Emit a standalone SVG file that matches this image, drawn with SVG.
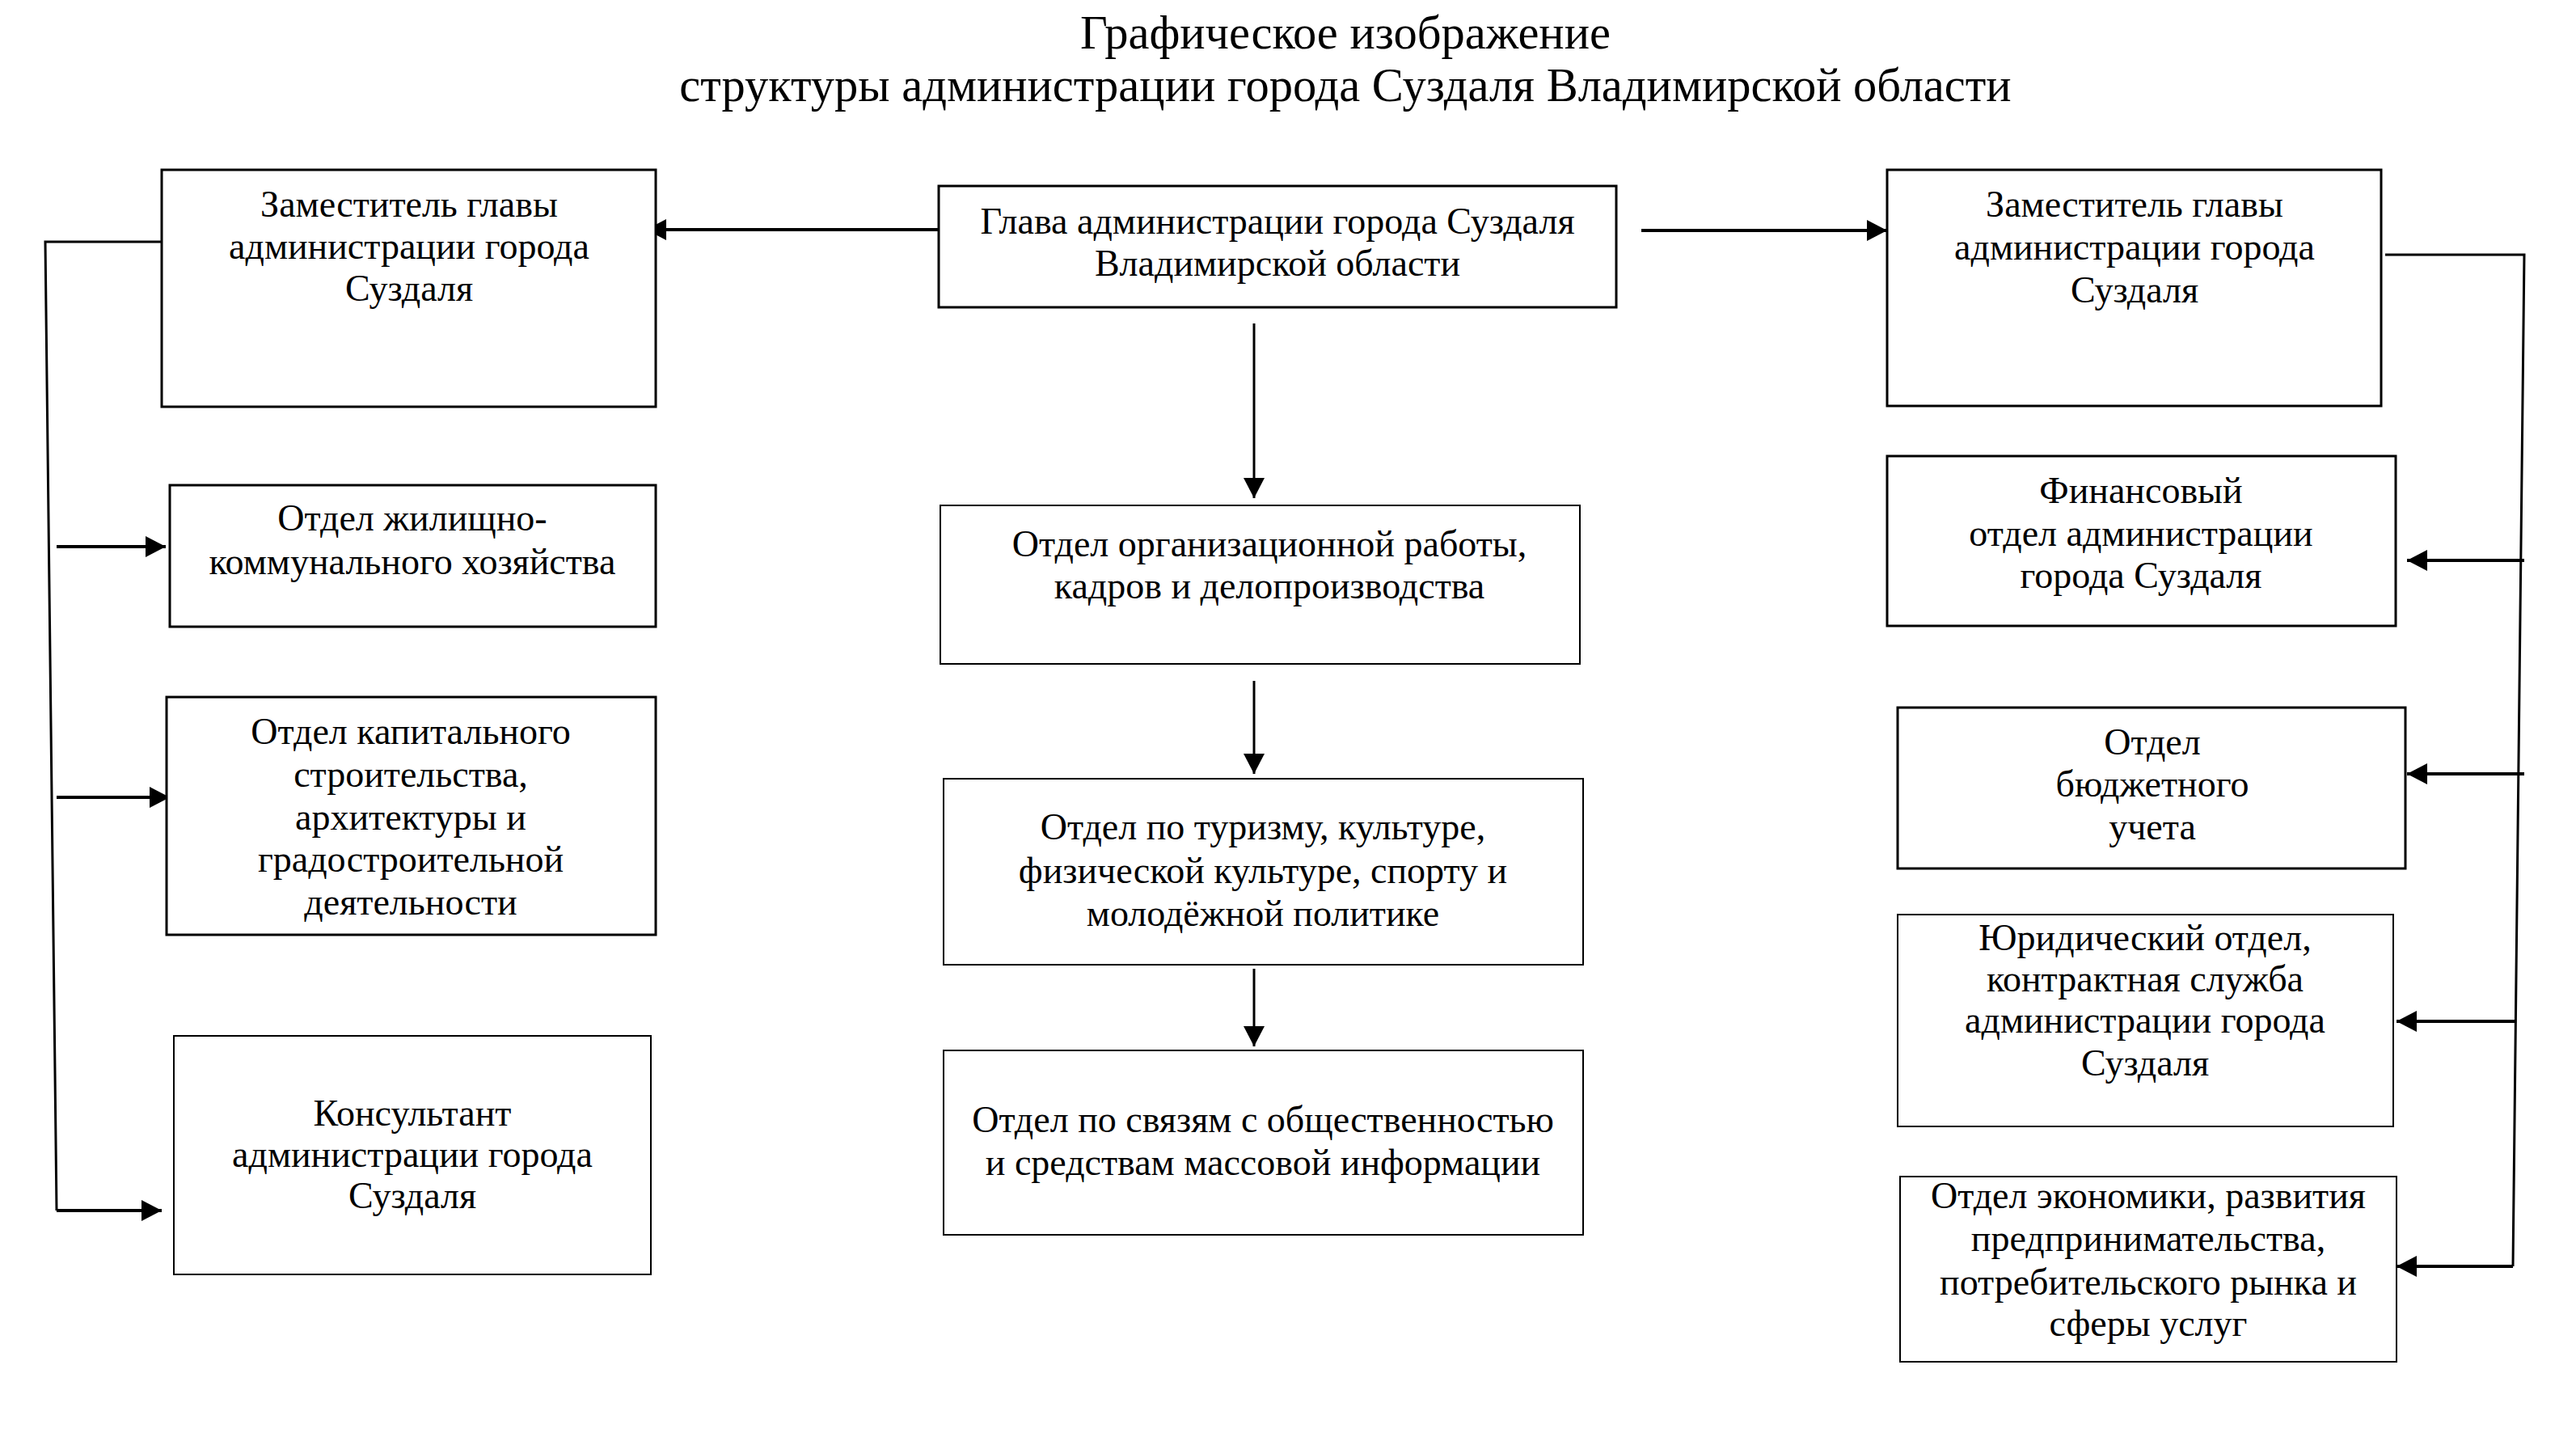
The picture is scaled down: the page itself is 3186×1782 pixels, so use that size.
<svg xmlns="http://www.w3.org/2000/svg" width="3186" height="1782" viewBox="0 0 3186 1782">
<style>
.bg{fill:#fff}
.box{fill:#fff;stroke:#000;stroke-width:3}
.thin{stroke-width:2}
.t{font-family:"Liberation Serif","Times New Roman",serif;font-size:46px;fill:#000;text-anchor:middle}
.title{font-family:"Liberation Serif","Times New Roman",serif;font-size:58.5px;fill:#000;text-anchor:middle}
.c{fill:none;stroke:#000;stroke-width:3}
.h{stroke-width:4}
</style>
<defs>
<marker id="ah" markerUnits="userSpaceOnUse" markerWidth="26" markerHeight="26" refX="25" refY="13" orient="auto">
<path d="M0,0 L25,13 L0,26 z" fill="#000"/>
</marker>
</defs>
<rect class="bg" x="0" y="0" width="3186" height="1782"/>
<g id="title">
<text class="title" x="1664" y="60">Графическое изображение</text>
<text class="title" x="1664" y="125">структуры администрации города Суздаля Владимирской области</text>
</g>
<g id="connectors">
<line class="c h" x1="1173" y1="284" x2="799" y2="284" marker-end="url(#ah)"/>
<line class="c h" x1="2030" y1="285" x2="2334" y2="285" marker-end="url(#ah)"/>
<line class="c" x1="1551" y1="400" x2="1551" y2="616" marker-end="url(#ah)"/>
<line class="c" x1="1551" y1="842" x2="1551" y2="957" marker-end="url(#ah)"/>
<line class="c" x1="1551" y1="1198" x2="1551" y2="1294" marker-end="url(#ah)"/>
<polyline class="c" points="200,299 56,299 70,1497"/>
<line class="c h" x1="70" y1="676" x2="205" y2="676" marker-end="url(#ah)"/>
<line class="c h" x1="70" y1="986" x2="210" y2="986" marker-end="url(#ah)"/>
<line class="c h" x1="70" y1="1497" x2="200" y2="1497" marker-end="url(#ah)"/>
<polyline class="c" points="2950,315 3122,315 3108,1566"/>
<line class="c h" x1="3122" y1="693" x2="2977" y2="693" marker-end="url(#ah)"/>
<line class="c h" x1="3122" y1="957" x2="2977" y2="957" marker-end="url(#ah)"/>
<line class="c h" x1="3110" y1="1263" x2="2964" y2="1263" marker-end="url(#ah)"/>
<line class="c h" x1="3108" y1="1566" x2="2964" y2="1566" marker-end="url(#ah)"/>
</g>
<g id="head">
<rect class="box" x="1161" y="230" width="838" height="150"/>
<text class="t" x="1580" y="289">Глава администрации города Суздаля</text>
<text class="t" x="1580" y="341">Владимирской области</text>
</g>
<g id="deputy-left">
<rect class="box" x="200" y="210" width="611" height="293"/>
<text class="t" x="506" y="268">Заместитель главы</text>
<text class="t" x="506" y="320">администрации города</text>
<text class="t" x="506" y="372">Суздаля</text>
</g>
<g id="deputy-right">
<rect class="box" x="2334" y="210" width="611" height="292"/>
<text class="t" x="2640" y="268">Заместитель главы</text>
<text class="t" x="2640" y="321">администрации города</text>
<text class="t" x="2640" y="374">Суздаля</text>
</g>
<g id="housing">
<rect class="box" x="210" y="600" width="601" height="175"/>
<text class="t" x="510" y="656">Отдел жилищно-</text>
<text class="t" x="510" y="710">коммунального хозяйства</text>
</g>
<g id="construction">
<rect class="box" x="206" y="862" width="605" height="294"/>
<text class="t" x="508" y="920">Отдел капитального</text>
<text class="t" x="508" y="973">строительства,</text>
<text class="t" x="508" y="1026">архитектуры и</text>
<text class="t" x="508" y="1078">градостроительной</text>
<text class="t" x="508" y="1131">деятельности</text>
</g>
<g id="consultant">
<rect class="box thin" x="215" y="1281" width="590" height="295"/>
<text class="t" x="510" y="1392">Консультант</text>
<text class="t" x="510" y="1443">администрации города</text>
<text class="t" x="510" y="1494">Суздаля</text>
</g>
<g id="org">
<rect class="box thin" x="1163" y="625" width="791" height="196"/>
<text class="t" x="1570" y="688">Отдел организационной работы,</text>
<text class="t" x="1570" y="740">кадров и делопроизводства</text>
</g>
<g id="tourism">
<rect class="box thin" x="1167" y="963" width="791" height="230"/>
<text class="t" x="1562" y="1038">Отдел по туризму, культуре,</text>
<text class="t" x="1562" y="1092">физической культуре, спорту и</text>
<text class="t" x="1562" y="1145">молодёжной политике</text>
</g>
<g id="pr">
<rect class="box thin" x="1167" y="1299" width="791" height="228"/>
<text class="t" x="1562" y="1400">Отдел по связям с общественностью</text>
<text class="t" x="1562" y="1453">и средствам массовой информации</text>
</g>
<g id="finance">
<rect class="box" x="2334" y="564" width="629" height="210"/>
<text class="t" x="2648" y="622">Финансовый</text>
<text class="t" x="2648" y="675">отдел администрации</text>
<text class="t" x="2648" y="727">города Суздаля</text>
</g>
<g id="budget">
<rect class="box" x="2347" y="875" width="628" height="199"/>
<text class="t" x="2662" y="933">Отдел</text>
<text class="t" x="2662" y="985">бюджетного</text>
<text class="t" x="2662" y="1038">учета</text>
</g>
<g id="legal">
<rect class="box thin" x="2347" y="1131" width="613" height="262"/>
<text class="t" x="2653" y="1175">Юридический отдел,</text>
<text class="t" x="2653" y="1226">контрактная служба</text>
<text class="t" x="2653" y="1277">администрации города</text>
<text class="t" x="2653" y="1330">Суздаля</text>
</g>
<g id="economy">
<rect class="box thin" x="2350" y="1455" width="614" height="229"/>
<text class="t" x="2657" y="1494">Отдел экономики, развития</text>
<text class="t" x="2657" y="1547">предпринимательства,</text>
<text class="t" x="2657" y="1601">потребительского рынка и</text>
<text class="t" x="2657" y="1652">сферы услуг</text>
</g>
</svg>
